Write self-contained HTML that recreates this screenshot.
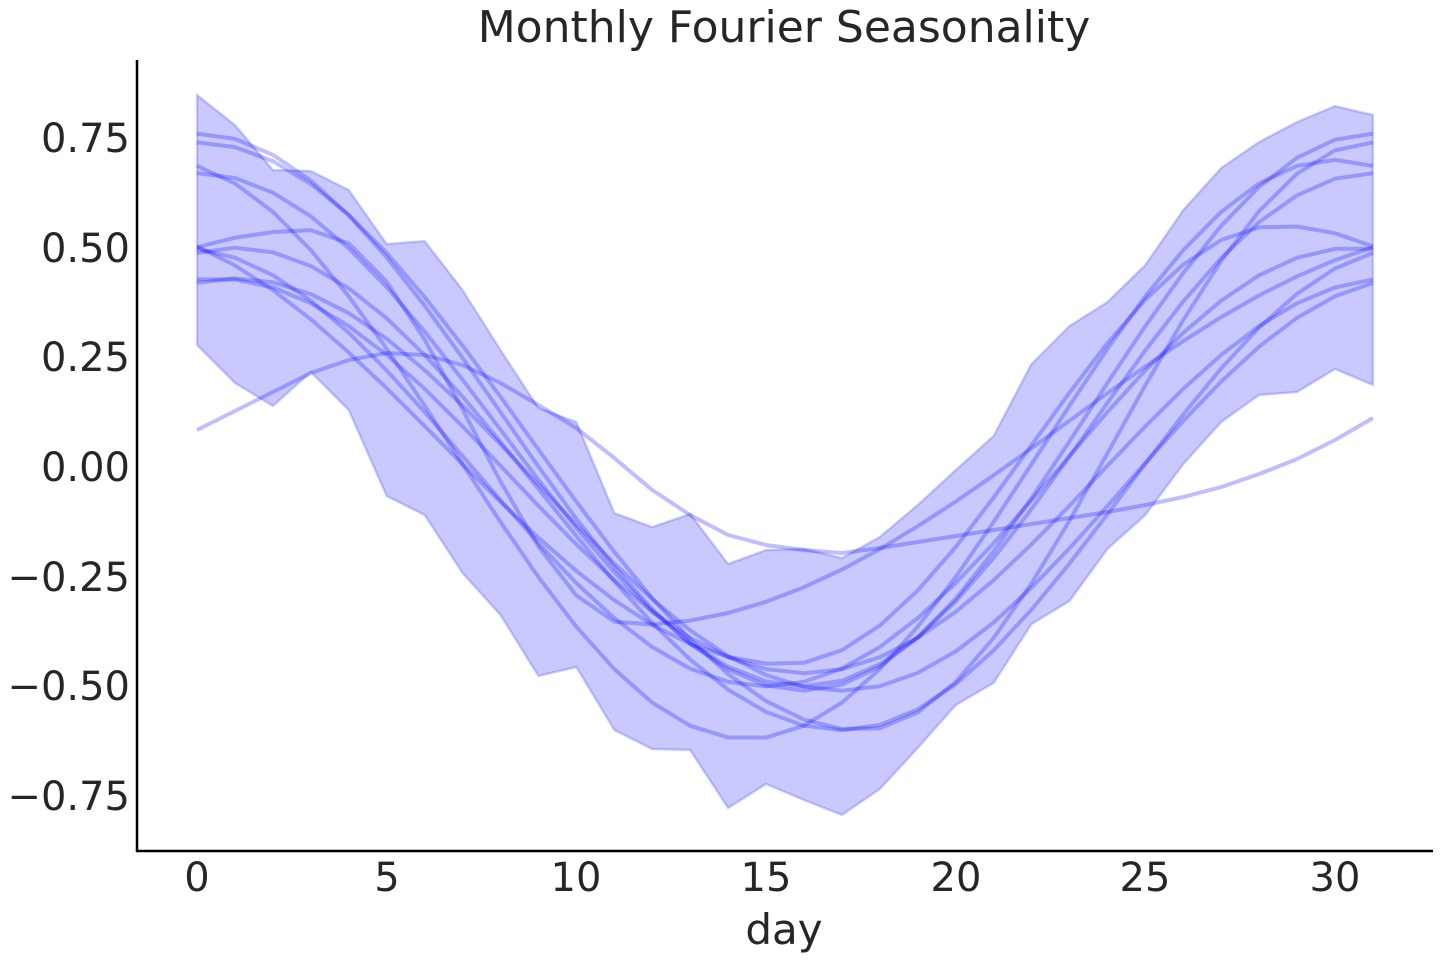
<!DOCTYPE html>
<html><head><meta charset="utf-8"><style>
html,body{margin:0;padding:0;background:#fff;}
svg{display:block;font-family:"DejaVu Sans","Liberation Sans",sans-serif;}
</style></head><body>
<svg id="s" width="1440" height="960" viewBox="0 0 1440 960" xmlns="http://www.w3.org/2000/svg">
<rect width="1440" height="960" fill="#fff"/>
<path id="band" fill="#0000ff" fill-opacity="0.21" stroke="#0000ff" stroke-opacity="0.18" stroke-width="2.5"/>
<g id="lines" fill="none" stroke="#0000ff" stroke-opacity="0.25" stroke-width="4" stroke-linejoin="round"></g>
<line x1="137" y1="60" x2="137" y2="852" stroke="#000" stroke-width="2.5"/>
<line x1="136" y1="851" x2="1433" y2="851" stroke="#000" stroke-width="2.5"/>
<g fill="#262626" font-size="40" text-anchor="end">
<text x="130" y="152">0.75</text>
<text x="130" y="262">0.50</text>
<text x="130" y="371">0.25</text>
<text x="130" y="481">0.00</text>
<text x="130" y="591">−0.25</text>
<text x="130" y="700">−0.50</text>
<text x="130" y="810">−0.75</text>
</g>
<g fill="#262626" font-size="40" text-anchor="middle">
<text x="197" y="891">0</text>
<text x="387" y="891">5</text>
<text x="576" y="891">10</text>
<text x="766" y="891">15</text>
<text x="956" y="891">20</text>
<text x="1145" y="891">25</text>
<text x="1335" y="891">30</text>
<text x="784" y="944" font-size="42">day</text>
<text x="784" y="42" font-size="44">Monthly Fourier Seasonality</text>
</g>
</svg>
<script>
var X=function(d){return 197+d*37.933;},Y=function(v){return 467-v*438.7;};
var up=[95,125,170,171,190,244,241,290,350,408,422,513,527,514,564,550,549,558,537,505,470,436,364,326,302,265,210,168,142,122,106,115];
var lo=[345,383,406,372,410,496,515,573,615,676,667,730,749,750,808,784,800,815,789,748,705,683,624,601,549,515,464,422,395,392,369,385];
var d="M"+X(0)+","+up[0];
for(var i=1;i<32;i++)d+="L"+X(i).toFixed(1)+","+up[i];
for(var i=31;i>=0;i--)d+="L"+X(i).toFixed(1)+","+lo[i];
document.getElementById("band").setAttribute("d",d+"Z");
var g=document.getElementById("lines");
function add(s){var e=document.createElementNS("http://www.w3.org/2000/svg","path");e.setAttribute("d",s);g.appendChild(e);}
function ph(t,P,m){var k=[[P-31,-2],[m-31,-1],[P,0],[m,1],[P+31,2],[m+31,3],[P+62,4]];
for(var j=0;j<k.length-1;j++){if(t>=k[j][0]&&t<=k[j+1][0]){return Math.PI*(k[j][1]+(t-k[j][0])/(k[j+1][0]-k[j][0]));}}return 0;}
var P=[[0.635,0.125,0,16],[0.67,0.07,0,17.5],[0.66,0.04,-1,14.5],[0.585,0.085,0,16],[0.45,0.09,3,11.5],[0.55,-0.05,1,17],[0.5,0.0,-0.5,15],[0.45,-0.02,0.5,16],[0.5,0.05,-2.5,15.5],[0.47,-0.04,1,17]];
P.forEach(function(p){var s="";for(var i=0;i<32;i++){var v=p[0]*Math.cos(ph(i,p[2],p[3]))+p[1];s+=(i?"L":"M")+X(i).toFixed(1)+","+Y(v).toFixed(1);}add(s);});
var A=[430,411,392,373,360,353,355,365,383,405,428,458,490,515,535,545,550,553,548,542,536,530,524,518,512,505,497,487,474,459,440,418];
var s="";for(var i=0;i<32;i++)s+=(i?"L":"M")+X(i).toFixed(1)+","+A[i];add(s);
</script>
</body></html>
